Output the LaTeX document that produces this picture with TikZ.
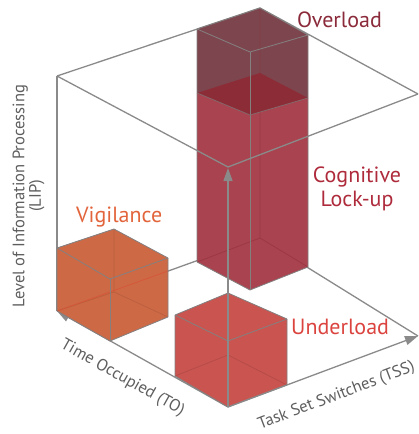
\documentclass[tikz,border=0pt]{standalone}
\usepackage{fontspec}
\setmainfont{PT Sans}
\usetikzlibrary{arrows.meta}
\definecolor{framegray}{HTML}{8A8A8A}
\definecolor{edgegray}{HTML}{848080}
\definecolor{overfill}{HTML}{7D464E}
\definecolor{locktop}{HTML}{8C2C37}
\definecolor{lockfill}{HTML}{A8434F}
\definecolor{underfill}{HTML}{CA5450}
\definecolor{vigfill}{HTML}{CD6945}
\definecolor{overtext}{HTML}{8B2A3A}
\definecolor{locktext}{HTML}{AE2B3C}
\definecolor{undertext}{HTML}{DB433F}
\definecolor{vigtext}{HTML}{E2643B}
\definecolor{axistext}{HTML}{5E5E5E}
\tikzset{
  frameline/.style={draw=framegray, line width=1.3pt},
  axisarrow/.style={frameline, -{Triangle[length=13pt,width=9pt]}},
  boxedge/.style={draw=edgegray, line width=0.8pt, line join=round},
  hiddenedge/.style={line width=0.8pt},
  biglabel/.style={font=\fontsize{22}{24}\selectfont, inner sep=0pt},
  axislabel/.style={font=\fontsize{16.6}{16.5}\selectfont, text=axistext, inner sep=0pt, align=center}
}
\begin{document}
\begin{tikzpicture}[x=1pt,y=-1pt]
\useasboundingbox (0,0) rectangle (419,434);
% frame vertices
\coordinate (TL) at (57,76);
\coordinate (TB) at (260,8);
\coordinate (TR) at (418,94);
\coordinate (TF) at (228,167);
\coordinate (TFa) at (228,168);
\coordinate (BL) at (57,311);
\coordinate (BB) at (260,238);
\coordinate (BR) at (418,336);
\coordinate (O) at (228,407);
% back frame lines
\draw[frameline] (TL) -- (TB) -- (TR);
\draw[frameline] (TB) -- (BB);
\draw[frameline] (TL) -- (BL);
\draw[frameline] (BL) -- (BB) -- (BR);
% TO axis
\draw[axisarrow] (O) -- (BL);

% tall box (Overload + Cognitive Lock-up)
\coordinate (oTL) at (197,29); \coordinate (oTB) at (260,8);
\coordinate (oTR) at (308,35); \coordinate (oTF) at (250,52);
\coordinate (mL) at (197,93); \coordinate (mB) at (260,73);
\coordinate (mR) at (308,98); \coordinate (mF) at (250,115);
\coordinate (bL) at (197,262); \coordinate (bF) at (250,290);
\coordinate (bR) at (308,267); \coordinate (bB) at (260,238);
\fill[lockfill] (mL) -- (mF) -- (bF) -- (bL) -- cycle;
\fill[lockfill] (mF) -- (mR) -- (bR) -- (bF) -- cycle;
\fill[overfill] (oTL) -- (oTB) -- (oTR) -- (mR) -- (mF) -- (mL) -- cycle;
\fill[locktop] (mL) -- (mB) -- (mR) -- (mF) -- cycle;
\draw[hiddenedge, draw=locktop, opacity=0.45] (oTB) -- (bB) (bL) -- (bB) -- (bR);
\draw[boxedge] (oTL) -- (oTB) -- (oTR) -- (oTF) -- cycle;
\draw[boxedge] (oTL) -- (bL) -- (bF) -- (bR) -- (oTR);
\draw[boxedge] (oTF) -- (bF);
\draw[boxedge, draw=edgegray!70!locktop] (mL) -- (mF) -- (mR);

% Vigilance box
\coordinate (vTL) at (57,248); \coordinate (vTB) at (114,229);
\coordinate (vTR) at (168,258); \coordinate (vTF) at (110,279);
\coordinate (vBL) at (57,311); \coordinate (vBF) at (110,341);
\coordinate (vBR) at (168,317); \coordinate (vBB) at (114,292);
\coordinate (vX) at (168,271);
\fill[vigfill] (vTL) -- (vTB) -- (vTR) -- (vBR) -- (vBF) -- (vBL) -- cycle;
\draw[hiddenedge, draw=vigfill!75!black, opacity=0.35] (vTB) -- (vBB) (vBL) -- (vBB) -- (vBR);
\draw[hiddenedge, draw=vigfill!80!red, opacity=0.8] (vBL) -- (vX);
\draw[boxedge] (vTL) -- (vTB) -- (vTR) -- (vTF) -- cycle;
\draw[boxedge] (vTL) -- (vBL) -- (vBF) -- (vBR) -- (vTR);
\draw[boxedge] (vTF) -- (vBF);

% Underload box
\coordinate (uTL) at (175,315); \coordinate (uTB) at (228,293);
\coordinate (uTR) at (287,319); \coordinate (uTF) at (228,341);
\coordinate (uBL) at (175,376); \coordinate (uBF) at (228,407);
\coordinate (uBR) at (287,385); \coordinate (uBB) at (228,355);
\fill[underfill] (uTL) -- (uTB) -- (uTR) -- (uBR) -- (uBF) -- (uBL) -- cycle;
\draw[hiddenedge, draw=underfill!75!black, opacity=0.4] (uBL) -- (uBB) -- (uBR);
\draw[boxedge] (uTL) -- (uTB) -- (uTR) -- (uTF) -- cycle;
\draw[boxedge] (uTL) -- (uBL) -- (uBF) -- (uBR) -- (uTR);

% front frame lines and axes
\draw[axisarrow] (O) -- (BR);
\draw[axisarrow] (O) -- (TFa);
\draw[frameline] (TL) -- (TF) -- (TR);

% labels
\node[biglabel, text=overtext, anchor=base west] (over) at (297,27) {Overload};
\node[biglabel, text=locktext, align=center] (lock) at (357,189) {Cognitive\\Lock-up};
\node[biglabel, text=undertext, anchor=base west] (under) at (291,334) {Underload};
\node[biglabel, text=vigtext, anchor=base west] (vig) at (76,222) {Vigilance};
\node[axislabel, rotate=90] (lip) at (28.5,196) {Level of Information Processing\\(LIP)};
\node[axislabel, rotate=-29.4] (to) at (122.5,378) {Time Occupied (TO)};
\node[axislabel, rotate=20.9] (tss) at (336.5,396) {Task Set Switches (TSS)};
\end{tikzpicture}
\end{document}
